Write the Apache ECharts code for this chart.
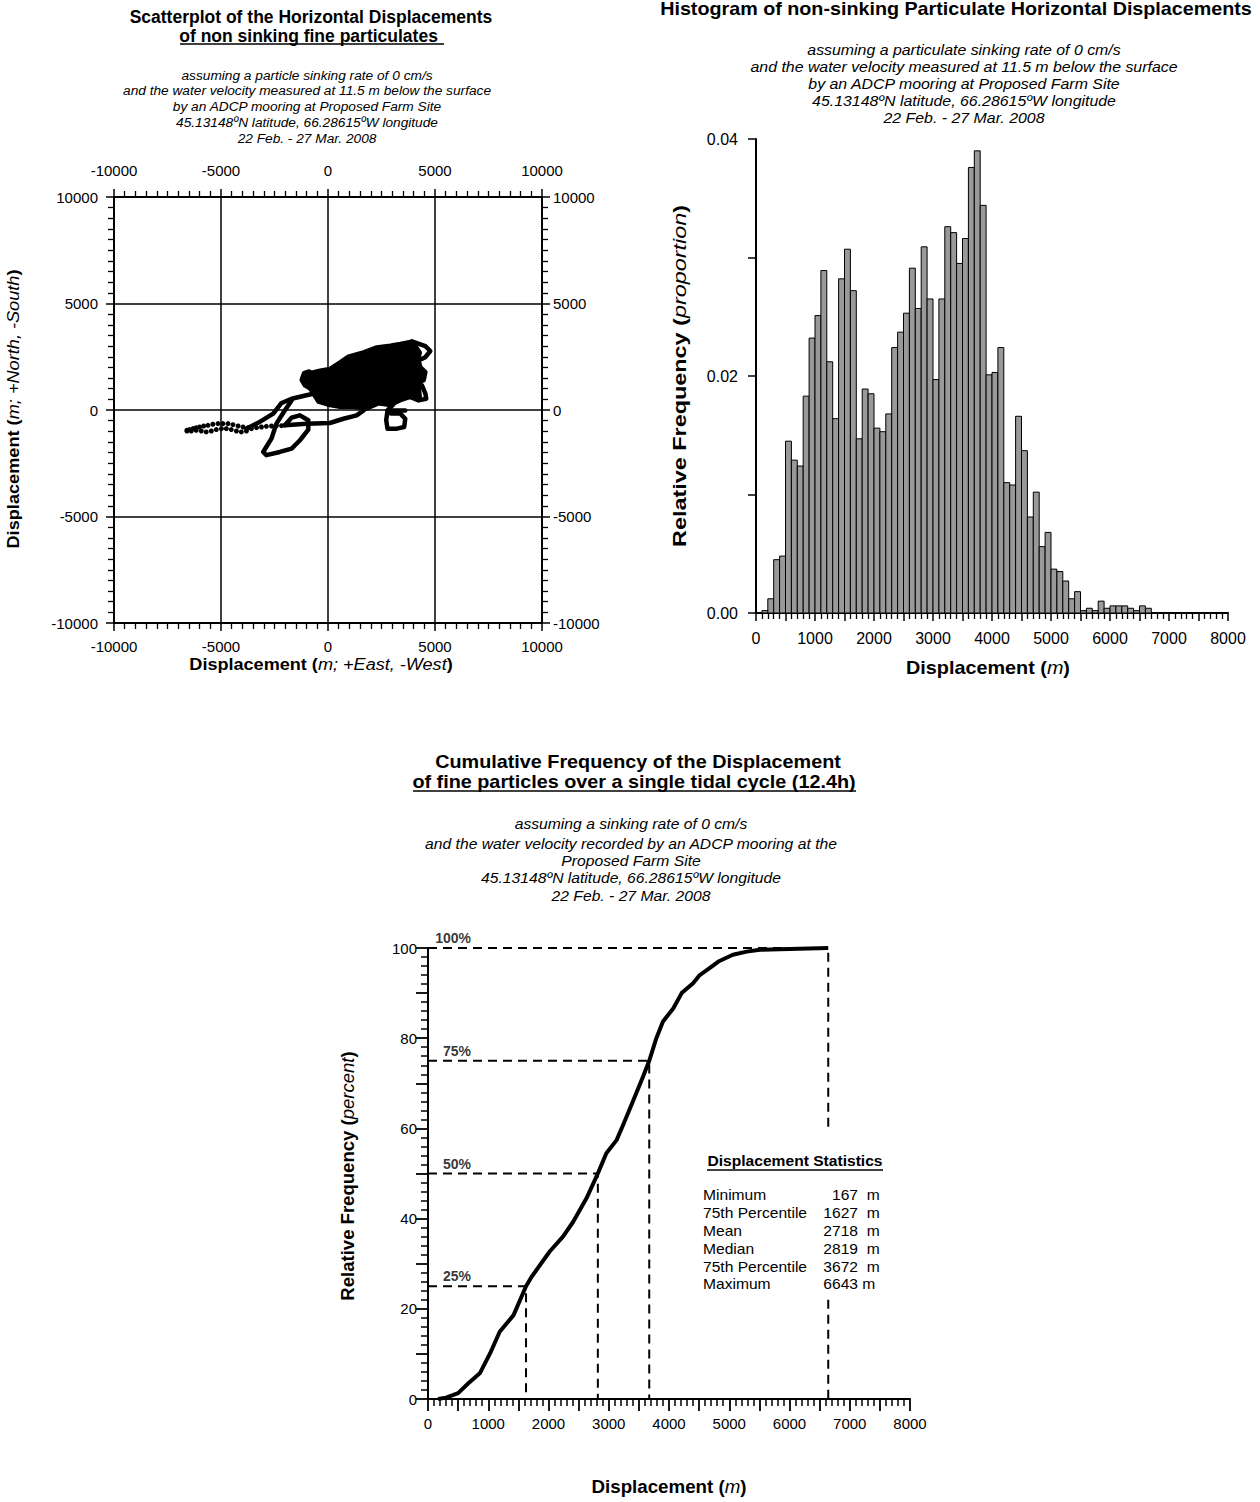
<!DOCTYPE html>
<html><head><meta charset="utf-8">
<script src="https://cdn.jsdelivr.net/npm/echarts@6/dist/echarts.min.js"></script>
<style>html,body{margin:0;padding:0;background:#fff}#c{width:1260px;height:1502px}</style>
</head><body><div id="c"></div>
<script>
const FONT = '"Liberation Sans", Arial, Helvetica, sans-serif';

// ---------- Scatterplot (m; +East/-West, +North/-South) ----------
const tailDotsUpper = [[-6590,-950],[-6470,-920],[-6310,-875],[-6160,-830],[-6000,-800],[-5810,-750],[-5610,-720],[-5380,-670],[-5140,-640],[-4910,-640],[-4670,-640],[-4440,-690],[-4200,-750],[-3970,-800],[-3730,-830]];
const tailDotsLower = [[-6590,-985],[-6390,-985],[-6160,-950],[-5920,-985],[-5690,-1030],[-5450,-985],[-5220,-920],[-4980,-875],[-4750,-875],[-4520,-920],[-4280,-985],[-4050,-1030],[-3810,-985]];
const tailDotsMid = [[-3580,-875],[-3340,-830],[-3110,-800],[-2880,-765],[-2640,-750],[-2410,-735],[-2170,-735]];
const pathFromTail = [[-3810,-875],[-3190,-560],[-2560,-170],[-2170,330],[-1700,530],[-1000,690],[-530,800]];
const pathLowerLoop = [[-1700,450],[-2020,-20],[-2410,-640],[-2640,-1340],[-3030,-1970],[-2880,-2120],[-2250,-1970],[-1700,-1810],[-1310,-1420],[-920,-920],[-920,-480],[-1310,-250],[-1700,-360],[-2020,-720]];
const pathLowerEdge = [[-2020,-720],[-1000,-640],[90,-610],[720,-410],[1340,-250],[1660,-20],[1810,140]];
const pathSquiggle = [[3060,270],[2780,-20],[2720,-480],[2780,-875],[3220,-875],[3560,-800],[3610,-410],[3380,-170],[2940,-170]];
const pathSquiggleBar = [[2900,-20],[3610,-20]];
const pathRightLoopA = [[3920,3220],[4550,3000],[4780,2770],[4550,2480],[4230,2330],[4310,2020],[4550,1780],[4470,1390],[4160,1310],[3920,1390]];
const pathRightLoopB = [[4000,1200],[4390,1160],[4550,770],[4590,530],[4230,450],[3840,610]];
const pathLeftLoop = [[-690,920],[-1080,1160],[-1230,1420],[-1120,1730],[-880,1810],[-660,1620]];
const clusterOutline = [[-1000,1600],[-700,1780],[-375,1860],[90,1940],[560,2250],[950,2520],[1660,2720],[2280,2950],[2910,3030],[3380,3110],[3920,3220],[4100,3000],[4300,2700],[4200,2300],[4350,1700],[4250,1100],[4300,600],[3840,610],[3380,450],[2910,220],[2360,300],[1810,60],[1190,140],[560,140],[90,220],[-450,380],[-690,770],[-900,1100],[-1100,1400]];

// ---------- Histogram (100 m bins) ----------
const histBinStart = [100,200,300,400,500,600,700,800,900,1000,1100,1200,1300,1400,1500,1600,1700,1800,1900,2000,2100,2200,2300,2400,2500,2600,2700,2800,2900,3000,3100,3200,3300,3400,3500,3600,3700,3800,3900,4000,4100,4200,4300,4400,4500,4600,4700,4800,4900,5000,5100,5200,5300,5400,5500,5600,5700,5800,5900,6000,6100,6200,6300,6400,6500,6600];
const histBinWidth = 100;
const histFreq = [0.0002,0.0012,0.0045,0.0048,0.0145,0.0129,0.0124,0.0183,0.0232,0.0251,0.0289,0.0212,0.0164,0.0282,0.0307,0.0272,0.0147,0.0189,0.0185,0.0156,0.0153,0.0168,0.0224,0.0237,0.0253,0.0291,0.0257,0.0309,0.0265,0.0197,0.0265,0.0326,0.0321,0.0295,0.0316,0.0376,0.0390,0.0344,0.0201,0.0203,0.0224,0.0110,0.0108,0.0166,0.0137,0.0081,0.0102,0.0056,0.0068,0.0037,0.0035,0.0027,0.0012,0.0018,0.0002,0.0004,0.0002,0.0010,0.0004,0.0006,0.0006,0.0006,0.0004,0.0002,0.0006,0.0004];

// ---------- Cumulative frequency ----------
const cumDisp = [167,300,500,670,860,1030,1190,1420,1627,1720,2020,2240,2410,2630,2819,2960,3130,3240,3410,3570,3672,3790,3900,4070,4210,4400,4510,4650,4820,5060,5290,5510,5840,6643];
const cumPct  = [0,0.3,1.3,3.5,5.7,10.1,14.9,18.6,25,27.1,32.7,36,39.3,44.5,50,54.5,57.4,60.8,66.3,71.5,75,80,83.7,86.6,90,92.2,94,95.3,97,98.5,99.2,99.6,99.7,100];
const pctLevels = [25,50,75,100];
const pctLabels = ['25%','50%','75%','100%'];
const statLabels = ['Minimum','75th Percentile','Mean','Median','75th Percentile','Maximum'];
const statValues = [167,1627,2718,2819,3672,6643];
const statUnits = ['  m','  m','  m','  m','  m',' m'];
const maxLineGap = [60,22]; // part of the max line hidden behind the statistics block

// ---------- helpers ----------
function ax(extra){
  return Object.assign({
    type:'value',
    axisLine:{show:true,onZero:false,lineStyle:{color:'#000',width:2}},
    axisTick:{show:true,inside:false,length:8,lineStyle:{color:'#000',width:1.5}},
    minorTick:{show:false},
    splitLine:{show:false}
  }, extra);
}
function lab(fs,margin,fmt){
  const o={color:'#000',fontFamily:FONT,fontSize:fs,margin:margin};
  o.formatter = fmt || (v=>String(Math.round(v)));
  return o;
}
function pathSeries(pts){
  return {type:'line',xAxisIndex:0,yAxisIndex:0,data:pts,showSymbol:false,symbol:'none',
    lineStyle:{color:'#000',width:4.5,join:'round',cap:'round'},silent:true,z:3};
}
function dashed(pts){
  return {type:'line',xAxisIndex:3,yAxisIndex:3,data:pts,symbol:'none',showSymbol:false,
    lineStyle:{color:'#000',width:2,type:[9,6]},silent:true,z:2};
}
const gridLine = {show:true,lineStyle:{color:'#000',width:1.5}};
const minor10 = {show:true,splitNumber:10,length:6,lineStyle:{color:'#000',width:1.3}};
const minor5h = {show:true,splitNumber:5,length:6,lineStyle:{color:'#000',width:1.3}};
const minor5c = {show:true,splitNumber:5,length:7,lineStyle:{color:'#000',width:1.5}};
const every1000 = v => (Math.round(v) % 1000 === 0 ? String(Math.round(v)) : '');

const texts = [];
function T(x,y,text,font,align,sx){
  texts.push({type:'text',x:x,y:y,scaleX:sx||1,style:{text:text,font:font,fill:'#000',
    textAlign:align||'center',align:align||'center',textVerticalAlign:'middle',verticalAlign:'middle'}});
}
function U(x1,x2,y){
  texts.push({type:'line',shape:{x1:x1,y1:y,x2:x2,y2:y},style:{stroke:'#000',lineWidth:1.4}});
}
function N(x,y,rich,fs,rot,sx){
  texts.push({type:'text',x:x,y:y,rotation:rot?Math.PI/2:0,scaleX:sx||1,
    style:{text:rich,fill:'#000',textAlign:'center',align:'center',textVerticalAlign:'middle',verticalAlign:'middle',
      font:'bold '+fs+'px '+FONT,
      rich:{b:{fontFamily:FONT,fontWeight:'bold',fontSize:fs,fill:'#000',color:'#000'},
            i:{fontFamily:FONT,fontStyle:'italic',fontSize:fs,fill:'#000',color:'#000'}}}});
}
// Scatter titles
T(311,17,'Scatterplot of the Horizontal Displacements','bold 17.5px '+FONT);
T(311,36,'of non sinking fine particulates ','bold 17.5px '+FONT);
U(180,444,44);
['assuming a particle sinking rate of 0 cm/s','and the water velocity measured at 11.5 m below the surface','by an ADCP mooring at Proposed Farm Site','45.13148ºN latitude, 66.28615ºW longitude','22 Feb. - 27 Mar. 2008']
  .forEach((s,i)=>T(307,75+i*15.8,s,'italic 13.7px '+FONT));
// Histogram titles
T(956,9,'Histogram of non-sinking Particulate Horizontal Displacements','bold 18px '+FONT,'center',1.096);
['assuming a particulate sinking rate of 0 cm/s','and the water velocity measured at 11.5 m below the surface','by an ADCP mooring at Proposed Farm Site','45.13148ºN latitude, 66.28615ºW longitude','22 Feb. - 27 Mar. 2008']
  .forEach((s,i)=>T(964,50+i*17,s,'italic 14px '+FONT,'center',1.135));
// Cumulative titles
T(638,762,'Cumulative Frequency of the Displacement','bold 18px '+FONT,'center',1.1);
T(634,782,'of fine particles over a single tidal cycle (12.4h)','bold 18px '+FONT,'center',1.1);
U(413,856,791);
T(631,824,'assuming a sinking rate of 0 cm/s','italic 14px '+FONT,'center',1.12);
T(631,844,'and the water velocity recorded by an ADCP mooring at the','italic 14px '+FONT,'center',1.12);
T(631,861,'Proposed Farm Site','italic 14px '+FONT,'center',1.12);
T(631,878,'45.13148ºN latitude, 66.28615ºW longitude','italic 14px '+FONT,'center',1.12);
T(631,896,'22 Feb. - 27 Mar. 2008','italic 14px '+FONT,'center',1.12);
// Stats block
T(795,1161,'Displacement Statistics','bold 15px '+FONT,'center',1.04);
U(707,883,1170);
statLabels.forEach((s,i)=>{
  T(703,1195+i*17.8,s,'15px '+FONT,'left',1.04);
  T(858,1195+i*17.8,String(statValues[i]),'15px '+FONT,'right',1.04);
  T(858,1195+i*17.8,statUnits[i],'15px '+FONT,'left',1.04);
});
// Axis names
N(321,665,'{b|Displacement (}{i|m; +East, -West}{b|)}',16,false,1.13);
N(14,409,'{b|Displacement (}{i|m; +North, -South}{b|)}',16,true,1.135);
N(988,668,'{b|Displacement (}{i|m}{b|)}',18,false,1.1);
N(680,376,'{b|Relative Frequency (}{i|proportion}{b|)}',18,true,1.3);
N(669,1487,'{b|Displacement (}{i|m}{b|)}',18,false,1.04);
N(348,1176,'{b|Relative Frequency (}{i|percent}{b|)}',18,true,1.03);

const option = {
  animation:false,
  backgroundColor:'#fff',
  grid:[
    {left:114,top:197,width:428,height:426,containLabel:false,outerBoundsMode:'none'},
    {left:756,top:139,width:472,height:474,containLabel:false,outerBoundsMode:'none'},
    {left:428,top:948,width:482,height:451,containLabel:false,outerBoundsMode:'none'}
  ],
  xAxis:[
    ax({gridIndex:0,position:'bottom',min:-10000,max:10000,interval:5000,minorTick:minor10,splitLine:gridLine,axisLabel:lab(15,16)}),
    ax({gridIndex:0,position:'top',min:-10000,max:10000,interval:5000,minorTick:minor10,axisLabel:lab(15,19)}),
    ax({gridIndex:1,min:0,max:8000,interval:500,minorTick:minor5h,axisTick:{show:true,length:8,lineStyle:{color:'#000',width:1.5}},
        axisLabel:lab(16,17,every1000)}),
    ax({gridIndex:2,min:0,max:8000,interval:500,minorTick:minor5c,axisTick:{show:true,length:12,lineStyle:{color:'#000',width:1.8}},
        axisLabel:lab(15,17,every1000)})
  ],
  yAxis:[
    ax({gridIndex:0,position:'left',min:-10000,max:10000,interval:5000,minorTick:minor10,splitLine:gridLine,axisLabel:lab(15,16)}),
    ax({gridIndex:0,position:'right',min:-10000,max:10000,interval:5000,minorTick:minor10,axisLabel:lab(15,11)}),
    ax({gridIndex:1,min:0,max:0.04,interval:0.01,axisTick:{show:true,length:8,lineStyle:{color:'#000',width:1.5}},
        axisLabel:lab(16,18,v=>(Math.round(v*100)%2===0?v.toFixed(2):''))}),
    ax({gridIndex:2,min:0,max:100,interval:10,minorTick:minor5c,axisTick:{show:true,length:12,lineStyle:{color:'#000',width:1.8}},
        axisLabel:lab(15,11,v=>(Math.round(v)%20===0?String(Math.round(v)):''))})
  ],
  series:[
    {type:'custom',xAxisIndex:0,yAxisIndex:0,data:clusterOutline,silent:true,z:3,
      renderItem:function(params,api){
        if(params.dataIndex!==0) return null;
        return {type:'polygon',shape:{points:clusterOutline.map(p=>api.coord(p))},style:{fill:'#000',stroke:'#000',lineWidth:4,lineJoin:'round'}};
      }},
    pathSeries(pathFromTail),pathSeries(pathLowerLoop),pathSeries(pathLowerEdge),pathSeries(pathSquiggle),
    pathSeries(pathSquiggleBar),pathSeries(pathRightLoopA),pathSeries(pathRightLoopB),pathSeries(pathLeftLoop),
    {type:'scatter',xAxisIndex:0,yAxisIndex:0,data:tailDotsUpper.concat(tailDotsLower,tailDotsMid),
      symbol:'circle',symbolSize:5,itemStyle:{color:'#000',opacity:1},silent:true,z:3},
    {type:'custom',xAxisIndex:2,yAxisIndex:2,silent:true,
      data:histBinStart.map((s,i)=>[s,s+histBinWidth,histFreq[i]]),
      renderItem:function(params,api){
        const p0=api.coord([api.value(0),api.value(2)]);
        const p1=api.coord([api.value(1),0]);
        return {type:'rect',shape:{x:p0[0],y:p0[1],width:p1[0]-p0[0],height:p1[1]-p0[1]},
          style:{fill:'#999999',stroke:'#000',lineWidth:1}};
      }},
    {type:'line',xAxisIndex:3,yAxisIndex:3,data:cumDisp.map((d,i)=>[d,cumPct[i]]),symbol:'none',showSymbol:false,
      lineStyle:{color:'#000',width:4,join:'round'},silent:true,z:4},
    dashed([[0,pctLevels[0]],[statValues[1],pctLevels[0]],[statValues[1],0]]),
    dashed([[0,pctLevels[1]],[statValues[3],pctLevels[1]],[statValues[3],0]]),
    dashed([[0,pctLevels[2]],[statValues[4],pctLevels[2]],[statValues[4],0]]),
    dashed([[0,pctLevels[3]],[statValues[5],pctLevels[3]],[statValues[5],maxLineGap[0]]]),
    dashed([[statValues[5],maxLineGap[1]],[statValues[5],0]]),
    {type:'scatter',xAxisIndex:3,yAxisIndex:3,data:pctLevels.map(v=>[0,v]),symbolSize:2,
      itemStyle:{color:'rgba(0,0,0,0)'},silent:true,z:5,
      label:{show:true,formatter:p=>pctLabels[p.dataIndex],position:[44,-9],align:'right',verticalAlign:'middle',
        fontFamily:FONT,fontWeight:'bold',fontSize:14,color:'#000'}}
  ],
  graphic:texts
};
const chart = echarts.init(document.getElementById('c'),null,{renderer:'svg',width:1260,height:1502});
chart.setOption(option);
</script>
</body></html>
